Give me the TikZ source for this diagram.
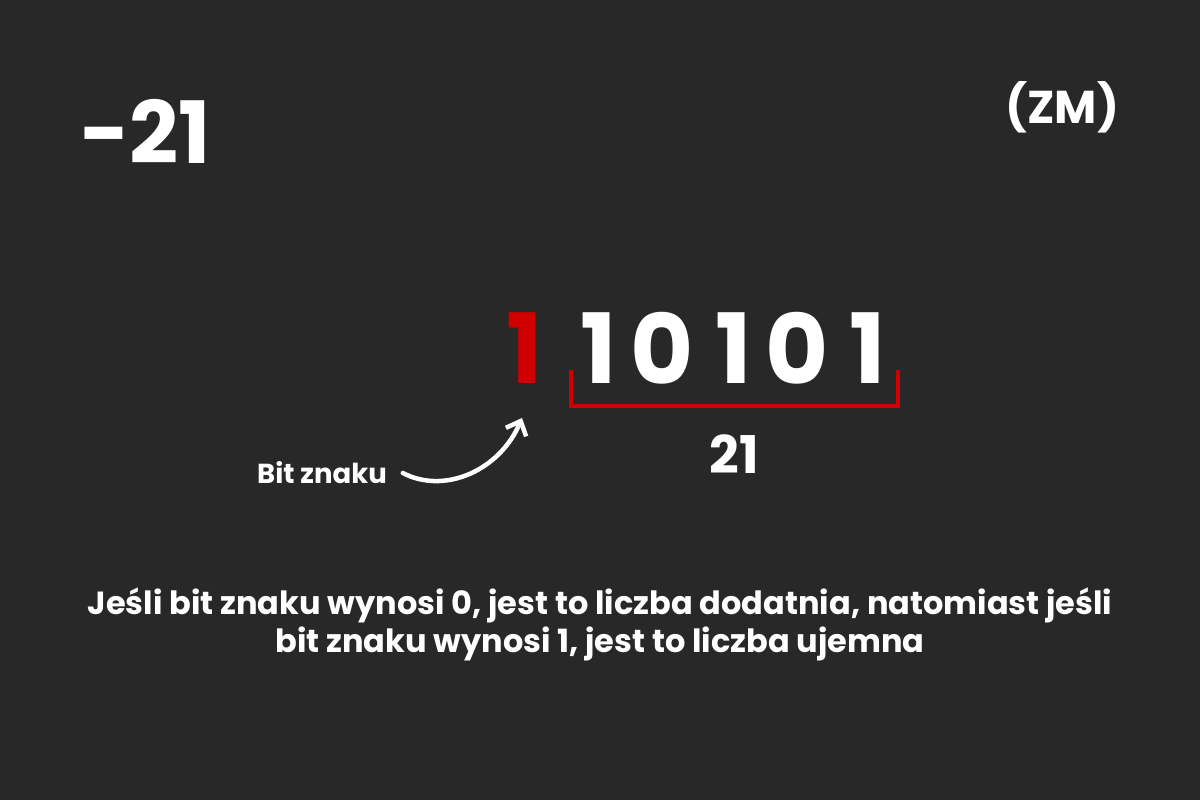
\documentclass[tikz,border=0pt]{standalone}
\usepackage{fontspec}
\setmainfont{Poppins}
\usetikzlibrary{arrows.meta}
\definecolor{bg}{HTML}{282828}
\definecolor{redbit}{HTML}{D10000}
\tikzset{
  txt/.style={text=white,font=\bfseries,inner sep=0pt,outer sep=0pt},
  digit/.style={txt,font=\fontsize{97}{97}\selectfont\bfseries,anchor=center},
}
\begin{document}
\begin{tikzpicture}[x=1pt,y=-1pt]
\fill[bg] (0,0) rectangle (1200,800);
\useasboundingbox (0,0) rectangle (1200,800);
\node[txt,font=\fontsize{86}{86}\selectfont\bfseries,anchor=base west] (num) at (80,163) {-21};
\node[txt,font=\fontsize{46}{46}\selectfont\bfseries,anchor=base east] (zm) at (1119,123) {(ZM)};
\node[digit,text=redbit] (d0) at (525,348) {1};
\node[digit] (d1) at (599,348) {1};
\node[digit] (d2) at (662,348) {0};
\node[digit] (d3) at (734,348) {1};
\node[digit] (d4) at (797,348) {0};
\node[digit] (d5) at (868,348) {1};
\coordinate (bl) at (571,370);
\coordinate (br) at (898,370);
\draw[redbit,line width=4pt] (bl) -- (571,406) -- (898,406) -- (br);
\node[txt,font=\fontsize{52}{52}\selectfont\bfseries] (val) at (734,454) {21};
\node[txt,font=\fontsize{27.5}{27.5}\selectfont\bfseries] (lbl) at (322,473) {Bit znaku};
\coordinate (tip) at (522,418);
\draw[white,line width=4.5pt,line cap=round,-{Straight Barb[length=12pt,width=22pt,line width=4.5pt]}]
  (lbl.east) ++(16,0) .. controls (445,495) and (500,470) .. (tip);
\node[txt,font=\fontsize{32}{38}\selectfont\bfseries,align=center] (desc) at (600,624)
  {Jeśli bit znaku wynosi 0, jest to liczba dodatnia, natomiast jeśli\\bit znaku wynosi 1, jest to liczba ujemna};
\end{tikzpicture}
\end{document}
